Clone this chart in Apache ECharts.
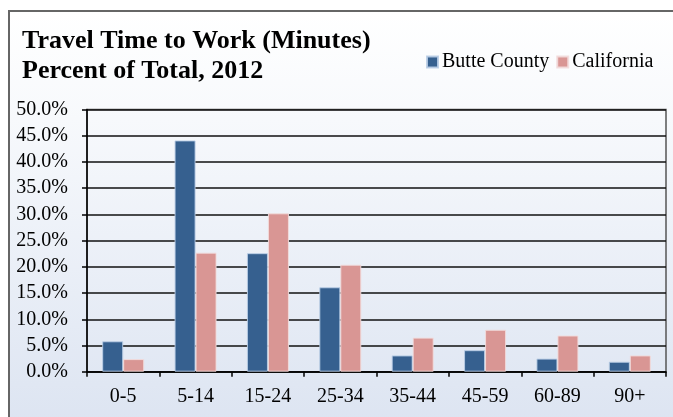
<!DOCTYPE html>
<html>
<head>
<meta charset="utf-8">
<script src="https://cdn.jsdelivr.net/npm/echarts@6/dist/echarts.min.js"></script>
<style>
  html, body { margin: 0; padding: 0; background: #ffffff; }
  #wrap { position: relative; width: 673px; height: 417px; overflow: hidden; }
  #frame {
    position: absolute; left: 8px; top: 10px; width: 700px; height: 430px;
    border-left: 2px solid #666666; border-top: 2px solid #666666;
    background: linear-gradient(to bottom, #ffffff 0%, #f7f9fc 25%, #dbe3f1 100%);
  }
  #chart { position: absolute; left: 0; top: 0; width: 673px; height: 417px; }
</style>
</head>
<body>
<div id="wrap">
  <div id="frame"></div>
  <div id="chart"></div>
</div>
<script>
// Commute duration bands (minutes)
const categories = ['0-5', '5-14', '15-24', '25-34', '35-44', '45-59', '60-89', '90+'];
// Share of workers in each band, percent
const butteCounty = [5.8, 44.1, 22.6, 16.1, 3.1, 4.1, 2.5, 1.9];
const california = [2.4, 22.7, 30.2, 20.4, 6.5, 8.0, 6.9, 3.1];
// Value axis range
const yMin = 0;
const yMax = 50;
const yStep = 5;

const serif = '"Liberation Serif", "Times New Roman", serif';

const chart = echarts.init(document.getElementById('chart'), null, { renderer: 'canvas' });

chart.setOption({
  backgroundColor: 'transparent',
  animation: false,
  title: {
    text: 'Travel Time to Work (Minutes)\nPercent of Total, 2012',
    left: 17,
    top: 21,
    textStyle: {
      fontFamily: serif,
      fontSize: 26,
      fontWeight: 'bold',
      color: '#000000',
      lineHeight: 30
    }
  },
  legend: {
    left: 421,
    top: 47,
    icon: 'rect',
    itemWidth: 11,
    itemHeight: 11,
    itemGap: 7,
    textStyle: { fontFamily: serif, fontSize: 20, color: '#000000', padding: [0, 0, 0, -1] },
    data: ['Butte County', 'California']
  },
  grid: {
    left: 87,
    right: 7,
    top: 109.5,
    bottom: 45.3,
    show: true,
    borderColor: '#555555',
    borderWidth: 1.5,
    backgroundColor: 'transparent'
  },
  xAxis: {
    type: 'category',
    data: categories,
    axisLine: { lineStyle: { color: '#000000', width: 1.5 } },
    axisTick: { show: true, length: 5, lineStyle: { color: '#000000', width: 1.5 } },
    axisLabel: { fontFamily: serif, fontSize: 20, color: '#000000', margin: 15 }
  },
  yAxis: {
    type: 'value',
    min: yMin,
    max: yMax,
    interval: yStep,
    axisLine: { show: true, lineStyle: { color: '#000000', width: 1.5 } },
    axisTick: { show: true, length: 5, lineStyle: { color: '#000000', width: 1.5 } },
    splitLine: { lineStyle: { color: '#111111', width: 1.5 } },
    axisLabel: {
      fontFamily: serif,
      fontSize: 20,
      color: '#000000',
      margin: 19,
      formatter: v => v.toFixed(1) + '%'
    }
  },
  series: [
    {
      name: 'Butte County',
      type: 'bar',
      data: butteCounty,
      barGap: '0%',
      barCategoryGap: '42%',
      itemStyle: { color: '#36608f', borderColor: 'rgba(185,205,229,0.9)', borderWidth: 1 }
    },
    {
      name: 'California',
      type: 'bar',
      data: california,
      barGap: '0%',
      barCategoryGap: '42%',
      itemStyle: { color: '#d99694', borderColor: 'rgba(242,220,219,0.9)', borderWidth: 1 }
    }
  ]
});
</script>
</body>
</html>
